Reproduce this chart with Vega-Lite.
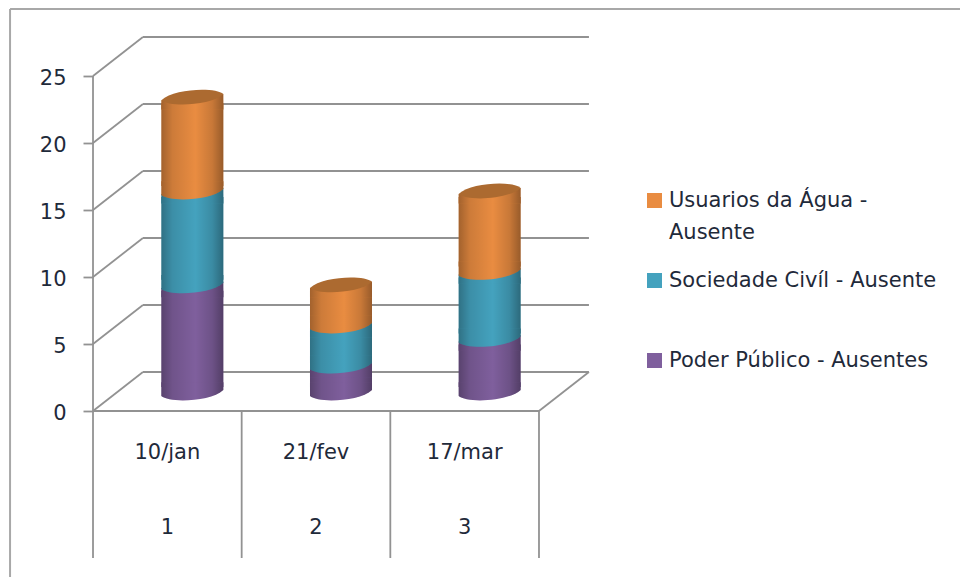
{
  "$schema": "https://vega.github.io/schema/vega-lite/v6.json",
  "width": 960,
  "height": 577,
  "autosize": {"type": "none"},
  "padding": 0,
  "background": "white",
  "config": {"view": {"stroke": null}, "font": "DejaVu Sans"},
  "datasets": {
    "ausencias": [
      {"dia": "10/jan", "reuniao": 1, "serie": "Poder Público - Ausentes", "valor": 8},
      {"dia": "10/jan", "reuniao": 1, "serie": "Sociedade Civíl - Ausente", "valor": 7},
      {"dia": "10/jan", "reuniao": 1, "serie": "Usuarios da Água - Ausente", "valor": 7},
      {"dia": "21/fev", "reuniao": 2, "serie": "Poder Público - Ausentes", "valor": 2},
      {"dia": "21/fev", "reuniao": 2, "serie": "Sociedade Civíl - Ausente", "valor": 3},
      {"dia": "21/fev", "reuniao": 2, "serie": "Usuarios da Água - Ausente", "valor": 3},
      {"dia": "17/mar", "reuniao": 3, "serie": "Poder Público - Ausentes", "valor": 4},
      {"dia": "17/mar", "reuniao": 3, "serie": "Sociedade Civíl - Ausente", "valor": 5},
      {"dia": "17/mar", "reuniao": 3, "serie": "Usuarios da Água - Ausente", "valor": 6}
    ],
    "niveis": [{"nivel": 0}, {"nivel": 5}, {"nivel": 10}, {"nivel": 15}, {"nivel": 20}, {"nivel": 25}],
    "divisoes": [{"limite": 0.5}, {"limite": 1.5}, {"limite": 2.5}, {"limite": 3.5}],
    "reunioes": [
      {"dia": "10/jan", "reuniao": 1},
      {"dia": "21/fev", "reuniao": 2},
      {"dia": "17/mar", "reuniao": 3}
    ]
  },
  "layer": [
    {
      "description": "Outer chart frame, left and top edges",
      "data": {"values": [{"x0": -0.058, "x1": -0.058, "y0": -12.388, "y1": 30}, {"x0": -0.058, "x1": 6.332, "y0": 30, "y1": 30}]},
      "mark": {"type": "rule", "color": "#A8A8A8", "strokeWidth": 2},
      "encoding": {
        "x": {"field": "x0", "type": "quantitative", "axis": null, "scale": {"domain": [-0.1256, 6.332], "nice": false, "zero": false, "padding": 0}},
        "x2": {"field": "x1"},
        "y": {"field": "y0", "type": "quantitative", "scale": {"domain": [-12.388, 30.672], "nice": false, "zero": false, "padding": 0},
          "title": null,
          "axis": {"values": [0, 5, 10, 15, 20, 25], "offset": -93, "domain": false, "grid": false, "tickSize": 10, "tickColor": "#929292", "tickWidth": 1.8, "labelPadding": 17, "labelOffset": 2, "labelFontSize": 21, "labelFont": "DejaVu Sans", "labelColor": "#1F2A3A"}},
        "y2": {"field": "y1"}
      }
    },
    {
      "description": "Back wall gridlines",
      "data": {"name": "niveis"},
      "mark": {"type": "rule", "color": "#929292", "strokeWidth": 1.8, "yOffset": -39},
      "encoding": {
        "x": {"datum": 0.836, "type": "quantitative"},
        "x2": {"datum": 3.836},
        "y": {"field": "nivel", "type": "quantitative"}
      }
    },
    {
      "description": "Side wall gridlines running into the depth of the chart",
      "data": {"name": "niveis"},
      "mark": {"type": "rule", "color": "#929292", "strokeWidth": 1.8, "y2Offset": -39},
      "encoding": {
        "x": {"datum": 0.5, "type": "quantitative"},
        "x2": {"datum": 0.836},
        "y": {"field": "nivel", "type": "quantitative"},
        "y2": {"field": "nivel"}
      }
    },
    {
      "description": "Front edge of the floor",
      "data": {"values": [{"nivel": 0}]},
      "mark": {"type": "rule", "color": "#929292", "strokeWidth": 1.8},
      "encoding": {
        "x": {"datum": 0.5, "type": "quantitative"},
        "x2": {"datum": 3.5},
        "y": {"field": "nivel", "type": "quantitative"}
      }
    },
    {
      "description": "Right edge of the floor",
      "data": {"values": [{"nivel": 0}]},
      "mark": {"type": "rule", "color": "#929292", "strokeWidth": 1.8, "y2Offset": -39},
      "encoding": {
        "x": {"datum": 3.5, "type": "quantitative"},
        "x2": {"datum": 3.836},
        "y": {"field": "nivel", "type": "quantitative"},
        "y2": {"field": "nivel"}
      }
    },
    {
      "description": "Value axis line",
      "data": {"values": [{"de": 0, "ate": 25}]},
      "mark": {"type": "rule", "color": "#929292", "strokeWidth": 1.8},
      "encoding": {
        "x": {"datum": 0.5, "type": "quantitative"},
        "y": {"field": "de", "type": "quantitative"},
        "y2": {"field": "ate"}
      }
    },
    {
      "description": "Vertical dividers of the two level category axis",
      "data": {"name": "divisoes"},
      "mark": {"type": "rule", "color": "#929292", "strokeWidth": 1.8},
      "encoding": {
        "x": {"field": "limite", "type": "quantitative"},
        "y": {"datum": 0, "type": "quantitative"},
        "y2": {"datum": -10.97}
      }
    },
    {
      "description": "Date row of the category axis",
      "data": {"name": "reunioes"},
      "mark": {"type": "text", "fontSize": 21, "font": "DejaVu Sans", "color": "#1F2A3A", "baseline": "middle"},
      "encoding": {
        "x": {"field": "reuniao", "type": "quantitative"},
        "y": {"datum": -3.13, "type": "quantitative"},
        "text": {"field": "dia"}
      }
    },
    {
      "description": "Meeting number row of the category axis",
      "data": {"name": "reunioes"},
      "mark": {"type": "text", "fontSize": 21, "font": "DejaVu Sans", "color": "#1F2A3A", "baseline": "middle"},
      "encoding": {
        "x": {"field": "reuniao", "type": "quantitative"},
        "y": {"datum": -8.73, "type": "quantitative"},
        "text": {"field": "reuniao"}
      }
    },
    {
      "description": "Cylinder bodies, stacked per meeting",
      "data": {"name": "ausencias"},
      "transform": [{"stack": "valor", "groupby": ["reuniao"], "sort": [{"field": "serie", "order": "ascending"}], "as": ["base", "topo"]}],
      "mark": {"type": "bar", "orient": "vertical", "width": 62, "xOffset": 25, "yOffset": -13, "y2Offset": -24},
      "encoding": {
        "x": {"field": "reuniao", "type": "quantitative"},
        "y": {"field": "topo", "type": "quantitative"},
        "y2": {"field": "base"},
        "color": {
          "field": "serie",
          "type": "nominal",
          "scale": {
            "domain": ["Usuarios da Água - Ausente", "Sociedade Civíl - Ausente", "Poder Público - Ausentes"],
            "range": ["#E98C41", "#44A2BE", "#7F5F9D"]
          },
          "legend": {
            "orient": "none",
            "legendX": 644,
            "legendY": 190,
            "title": null,
            "symbolType": "square",
            "symbolSize": 225,
            "symbolStrokeWidth": 0,
            "labelFont": "DejaVu Sans",
            "labelFontSize": 21,
            "labelColor": "#1F2A3A",
            "labelLimit": 320,
            "labelBaseline": "line-top",
            "labelOffset": 4,
            "gridAlign": "all",
            "rowPadding": 26,
            "labelExpr": "indexof(datum.label, 'Usuarios') === 0 ? ['Usuarios da Água -', 'Ausente'] : datum.label",
            "encode": {
              "labels": {"update": {"lineHeight": {"value": 32}, "dy": {"value": -16}}},
              "symbols": {"update": {"fill": [
                {"test": "datum.value === 'Usuarios da Água - Ausente'", "value": "#E08A43"},
                {"test": "datum.value === 'Sociedade Civíl - Ausente'", "value": "#4397B0"},
                {"value": "#735892"}
              ]}}
            }
          }
        }
      }
    },
    {
      "description": "Round shading across the cylinder bodies",
      "data": {"name": "ausencias"},
      "transform": [{"stack": "valor", "groupby": ["reuniao"], "sort": [{"field": "serie", "order": "ascending"}], "as": ["base", "topo"]}],
      "mark": {"type": "bar", "orient": "vertical", "width": 62, "xOffset": 25, "yOffset": -13, "y2Offset": -24,
        "fill": {"gradient": "linear", "x1": 0, "x2": 1, "y1": 0, "y2": 0, "stops": [{"offset": 0, "color": "rgba(0,0,0,0.3)"}, {"offset": 0.18, "color": "rgba(0,0,0,0.12)"}, {"offset": 0.55, "color": "rgba(0,0,0,0)"}, {"offset": 0.82, "color": "rgba(0,0,0,0.14)"}, {"offset": 1, "color": "rgba(0,0,0,0.35)"}]}},
      "encoding": {
        "x": {"field": "reuniao", "type": "quantitative"},
        "y": {"field": "topo", "type": "quantitative"},
        "y2": {"field": "base"}
      }
    },
    {
      "description": "Slanted upper shoulder of each segment, following the tilt of the rims",
      "data": {"name": "ausencias"},
      "transform": [{"stack": "valor", "groupby": ["reuniao"], "sort": [{"field": "serie", "order": "ascending"}], "as": ["base", "topo"]}],
      "mark": {"type": "point", "filled": true, "opacity": 1, "size": 3844, "xOffset": 25, "yOffset": -19, "shape": "M-1,0.1 L1,-0.1 L1,0.4 L-1,0.4 Z"},
      "encoding": {
        "x": {"field": "reuniao", "type": "quantitative"},
        "y": {"field": "topo", "type": "quantitative"},
        "color": {"field": "serie", "type": "nominal"}
      }
    },
    {
      "description": "Round shading across the shoulders",
      "data": {"name": "ausencias"},
      "transform": [{"stack": "valor", "groupby": ["reuniao"], "sort": [{"field": "serie", "order": "ascending"}], "as": ["base", "topo"]}],
      "mark": {"type": "point", "filled": true, "opacity": 1, "size": 3844, "xOffset": 25, "yOffset": -19, "shape": "M-1,0.1 L1,-0.1 L1,0.4 L-1,0.4 Z",
        "fill": {"gradient": "linear", "x1": 0, "x2": 1, "y1": 0, "y2": 0, "stops": [{"offset": 0, "color": "rgba(0,0,0,0.3)"}, {"offset": 0.18, "color": "rgba(0,0,0,0.12)"}, {"offset": 0.55, "color": "rgba(0,0,0,0)"}, {"offset": 0.82, "color": "rgba(0,0,0,0.14)"}, {"offset": 1, "color": "rgba(0,0,0,0.35)"}]}},
      "encoding": {
        "x": {"field": "reuniao", "type": "quantitative"},
        "y": {"field": "topo", "type": "quantitative"}
      }
    },
    {
      "description": "Curved lower rim of each stacked segment",
      "data": {"name": "ausencias"},
      "transform": [{"stack": "valor", "groupby": ["reuniao"], "sort": [{"field": "serie", "order": "ascending"}], "as": ["base", "topo"]}],
      "mark": {"type": "point", "filled": true, "opacity": 1, "size": 3844, "xOffset": 25, "yOffset": -18, "shape": "M-1,0.1 C-0.75,0.33 0.6,0.28 1,-0.1 L1,-0.35 L-1,-0.35 Z"},
      "encoding": {
        "x": {"field": "reuniao", "type": "quantitative"},
        "y": {"field": "base", "type": "quantitative"},
        "color": {"field": "serie", "type": "nominal"}
      }
    },
    {
      "description": "Round shading across the lower rims",
      "data": {"name": "ausencias"},
      "transform": [{"stack": "valor", "groupby": ["reuniao"], "sort": [{"field": "serie", "order": "ascending"}], "as": ["base", "topo"]}],
      "mark": {"type": "point", "filled": true, "opacity": 1, "size": 3844, "xOffset": 25, "yOffset": -18, "shape": "M-1,0.1 C-0.75,0.33 0.6,0.28 1,-0.1 L1,-0.35 L-1,-0.35 Z",
        "fill": {"gradient": "linear", "x1": 0, "x2": 1, "y1": 0, "y2": 0, "stops": [{"offset": 0, "color": "rgba(0,0,0,0.3)"}, {"offset": 0.18, "color": "rgba(0,0,0,0.12)"}, {"offset": 0.55, "color": "rgba(0,0,0,0)"}, {"offset": 0.82, "color": "rgba(0,0,0,0.14)"}, {"offset": 1, "color": "rgba(0,0,0,0.35)"}]}},
      "encoding": {
        "x": {"field": "reuniao", "type": "quantitative"},
        "y": {"field": "base", "type": "quantitative"}
      }
    },
    {
      "description": "Top cap of each cylinder",
      "data": {"name": "ausencias"},
      "transform": [
        {"stack": "valor", "groupby": ["reuniao"], "sort": [{"field": "serie", "order": "ascending"}], "as": ["base", "topo"]},
        {"filter": "indexof(datum.serie, 'Usuarios') === 0"}
      ],
      "mark": {"type": "point", "filled": true, "opacity": 1, "size": 3844, "xOffset": 25, "yOffset": -19, "color": "#AC6A30", "shape": "M-1,0.1 C-0.75,0.33 0.6,0.28 1,-0.1 C0.75,-0.33 -0.6,-0.28 -1,0.1 Z"},
      "encoding": {
        "x": {"field": "reuniao", "type": "quantitative"},
        "y": {"field": "topo", "type": "quantitative"}
      }
    }
  ]
}
